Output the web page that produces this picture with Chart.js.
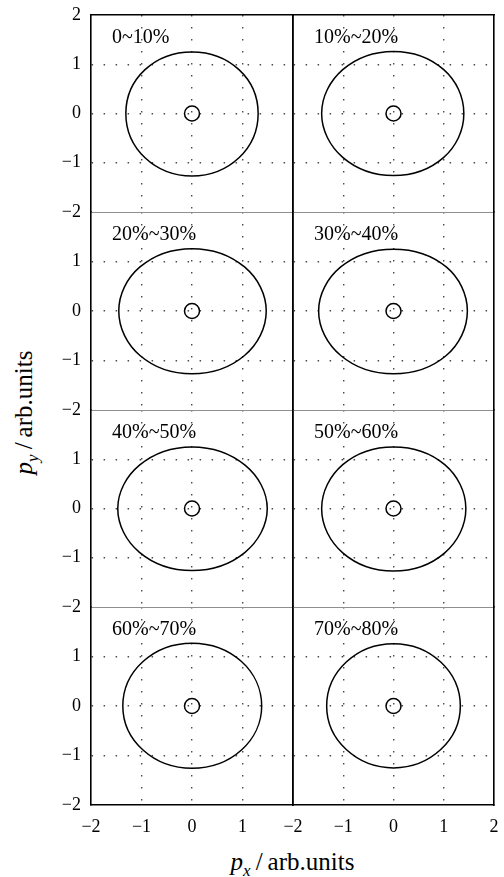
<!DOCTYPE html>
<html>
<head>
<meta charset="utf-8">
<script src="https://cdn.jsdelivr.net/npm/chart.js"></script>
<style>
html, body { margin: 0; padding: 0; background: #fff; }
#wrap { position: relative; width: 504px; height: 877px; overflow: hidden; font-family: "Liberation Serif", "Times New Roman", serif; color: #000; }
#wrap canvas { position: absolute; }
.lbl { position: absolute; font-size: 20px; line-height: 20px; white-space: nowrap; }
.ttl { position: absolute; font-size: 25px; line-height: 30px; white-space: nowrap; text-align: center; }
.ttl .sub { font-size: 17px; position: relative; top: 6px; font-style: italic; }
</style>
</head>
<body>
<div id="wrap">
  <div class="ttl" id="xTitle" style="left:91px; width:403px; top:847px;"><i>p</i><span class="sub">x</span>&thinsp;/&thinsp;arb.units</div>
  <div class="ttl" id="yTitle" style="left:-175px; width:400px; top:396px; transform:rotate(-90deg);"><i>p</i><span class="sub">y</span>&thinsp;/&thinsp;arb.units</div>
</div>
<script>
// centrality bins, one per panel (read left to right, top to bottom)
const panelNames = ['0~10%', '10%~20%', '20%~30%', '30%~40%', '40%~50%', '50%~60%', '60%~70%', '70%~80%'];

// ticks shared by every panel
const axisTicks = [-2, -1, 0, 1, 2];

// the small ring at the origin
const centerDot = [[0, 0]];

// outer contour of each panel (right, upper right, top, ...)
const ring1 = [[1.31, 0], [0.93, 0.89], [0, 1.25], [-0.93, 0.89], [-1.31, 0], [-0.93, -0.90], [0, -1.27], [0.93, -0.90]];
const ring2 = [[1.40, 0], [1.00, 0.89], [0, 1.26], [-1.01, 0.89], [-1.43, 0], [-1.01, -0.89], [0, -1.26], [1.00, -0.89]];
const ring3 = [[1.47, 0], [1.04, 0.89], [0, 1.26], [-1.03, 0.89], [-1.45, 0], [-1.03, -0.90], [0, -1.27], [1.04, -0.90]];
const ring4 = [[1.47, 0], [1.05, 0.89], [0, 1.25], [-1.05, 0.89], [-1.49, 0], [-1.05, -0.90], [0, -1.27], [1.05, -0.90]];
const ring5 = [[1.49, 0], [1.05, 0.88], [0, 1.25], [-1.04, 0.88], [-1.47, 0], [-1.04, -0.89], [0, -1.26], [1.05, -0.89]];
const ring6 = [[1.44, 0], [1.02, 0.89], [0, 1.25], [-1.01, 0.89], [-1.43, 0], [-1.01, -0.90], [0, -1.27], [1.02, -0.90]];
const ring7 = [[1.38, 0], [0.98, 0.90], [0, 1.27], [-0.97, 0.90], [-1.37, 0], [-0.97, -0.89], [0, -1.26], [0.98, -0.89]];
const ring8 = [[1.33, 0], [0.94, 0.89], [0, 1.26], [-0.94, 0.89], [-1.33, 0], [-0.94, -0.88], [0, -1.25], [0.94, -0.88]];
const rings = [ring1, ring2, ring3, ring4, ring5, ring6, ring7, ring8];

// page layout (pixels)
const colEdges = [91, 293, 494];
const rowEdges = [15, 212, 410, 607, 805];
const PAD = 32, YAXIS_W = 46, XAXIS_H = 36;
const inkLine = '#000';
const grayLine = '#8f8f8f';
const tickFont = { family: '"Liberation Serif", "Times New Roman", serif', size: 18 };

const wrap = document.getElementById('wrap');

function fmt(v) {
    return v < 0 ? '\u2212' + Math.abs(v) : String(v);
}

function gridColor(ctx) {
    return Math.abs(ctx.tick.value) === 2 ? 'rgba(0,0,0,0)' : '#4a4a4a';
}

// closed loop: repeat neighbours at both ends so the spline closes smoothly,
// then hide the two extra segments
function loopData(pts) {
    const n = pts.length;
    const seq = [pts[n - 1]].concat(pts, [pts[0], pts[1]]);
    return seq.map(p => ({ x: p[0], y: p[1] }));
}

panelNames.forEach((name, i) => {
    const row = Math.floor(i / 2), col = i % 2;
    const L = colEdges[col], R = colEdges[col + 1];
    const T = rowEdges[row], B = rowEdges[row + 1];
    const yw = col === 0 ? YAXIS_W : 0;
    const xh = row === 3 ? XAXIS_H : 0;

    const cv = document.createElement('canvas');
    const w = (R - L) + 2 * PAD + yw, h = (B - T) + 2 * PAD + xh;
    cv.width = w; cv.height = h;
    cv.style.width = w + 'px'; cv.style.height = h + 'px';
    cv.style.left = (L - PAD - yw) + 'px';
    cv.style.top = (T - PAD) + 'px';
    wrap.appendChild(cv);

    const lbl = document.createElement('div');
    lbl.className = 'lbl';
    lbl.textContent = name;
    lbl.style.left = (L + 21) + 'px';
    lbl.style.top = (T + 11) + 'px';
    wrap.appendChild(lbl);

    const n = rings[i].length;

    new Chart(cv, {
        type: 'scatter',
        data: {
            datasets: [{
                data: loopData(rings[i]),
                showLine: true,
                tension: 0.38,
                borderColor: '#000',
                borderWidth: 1.5,
                pointRadius: 0,
                segment: {
                    borderColor: c => (c.p0DataIndex === 0 || c.p0DataIndex === n + 1) ? 'rgba(0,0,0,0)' : '#000'
                }
            }, {
                data: centerDot.map(p => ({ x: p[0], y: p[1] })),
                pointRadius: 7.5,
                pointBorderWidth: 1.5,
                pointBorderColor: '#000',
                pointBackgroundColor: 'rgba(0,0,0,0)'
            }]
        },
        options: {
            responsive: false,
            animation: false,
            events: [],
            layout: { padding: PAD },
            plugins: { legend: { display: false }, tooltip: { enabled: false } },
            scales: {
                x: {
                    type: 'linear', position: 'bottom', min: -2, max: 2,
                    afterBuildTicks: s => { s.ticks = axisTicks.map(v => ({ value: v })); },
                    afterFit: s => { s.height = xh; },
                    ticks: {
                        display: row === 3, padding: 11, color: '#000', font: tickFont,
                        maxRotation: 0, autoSkip: false,
                        callback: v => (col === 0 && v === 2) ? '' : fmt(v)
                    },
                    grid: { drawTicks: false, lineWidth: 1.4, color: gridColor },
                    border: { color: row === 3 ? inkLine : grayLine, width: row === 3 ? 1.6 : 1, dash: [1.5, 10.5] }
                },
                x2: {
                    type: 'linear', position: 'top', min: -2, max: 2,
                    afterFit: s => { s.height = 0; },
                    ticks: { display: false },
                    grid: { display: false, drawTicks: false },
                    border: { color: row === 0 ? inkLine : grayLine, width: row === 0 ? 1.6 : 1 }
                },
                y: {
                    type: 'linear', position: 'left', min: -2, max: 2,
                    afterBuildTicks: s => { s.ticks = axisTicks.map(v => ({ value: v })); },
                    afterFit: s => { s.width = yw; },
                    ticks: {
                        display: col === 0, padding: 10, color: '#000', font: tickFont,
                        autoSkip: false,
                        callback: v => (row > 0 && v === 2) ? '' : fmt(v)
                    },
                    grid: { drawTicks: false, lineWidth: 1.4, color: gridColor },
                    border: { color: inkLine, width: 1.6, dash: [1.5, 10.5] }
                },
                y2: {
                    type: 'linear', position: 'right', min: -2, max: 2,
                    afterFit: s => { s.width = 0; },
                    ticks: { display: false },
                    grid: { display: false, drawTicks: false },
                    border: { color: inkLine, width: 1.6 }
                }
            }
        }
    });
});
</script>
</body>
</html>
